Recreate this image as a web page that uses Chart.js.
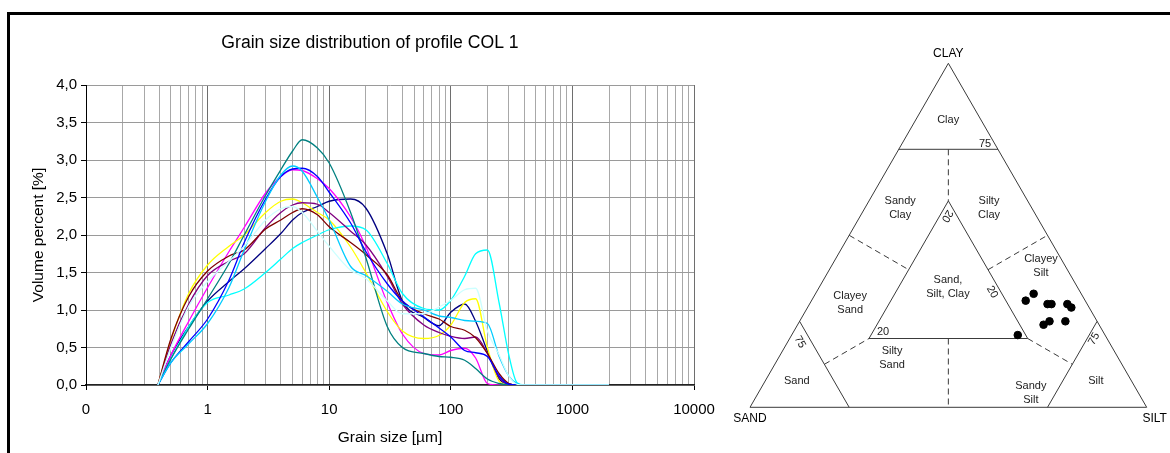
<!DOCTYPE html>
<html>
<head>
<meta charset="utf-8">
<script src="https://cdn.jsdelivr.net/npm/chart.js@4.4.0/dist/chart.umd.min.js"></script>
<style>
  body { margin: 0; background: #fff; }
  #page { position: relative; width: 1170px; height: 453px; overflow: hidden; background: #fff; }
  #frame { position: absolute; left: 7px; top: 12px; width: 1200px; height: 500px;
           border-top: 3px solid #000; border-left: 3px solid #000; }
  #grain { position: absolute; left: 10px; top: 0; }
  #ternary { position: absolute; left: 720px; top: 0; }
</style>
</head>
<body>
<div id="page">
  <div id="frame"></div>
  <canvas id="grain" width="720" height="453"></canvas>
  <canvas id="ternary" width="450" height="453"></canvas>
</div>
<script>
const FONT = "'Liberation Sans', Arial, sans-serif";
Chart.defaults.font.family = FONT;
Chart.defaults.color = "#000";

// grain size classes [µm]
const sizes = [0.39, 0.5, 0.7, 1, 1.5, 2, 3, 4, 5, 6, 8, 10, 15, 20, 30, 40, 60, 80, 100, 130, 160, 200, 250, 300, 350, 400, 2000];

// volume percent per sample
const sample1  = [0, 0.4, 0.78, 1.12, 1.38, 1.55, 1.82, 2.02, 2.2, 2.3, 2.38, 2.45, 2.48, 2.36, 1.75, 1.12, 0.9, 0.79, 0.97, 1.08, 0.85, 0.45, 0.08, 0.01, 0, 0, 0];
const sample2  = [0, 0.4, 0.85, 1.3, 1.78, 2.1, 2.56, 2.78, 2.87, 2.86, 2.75, 2.62, 2.24, 1.85, 1.1, 0.68, 0.42, 0.4, 0.46, 0.49, 0.36, 0.02, 0, 0, 0, 0, 0];
const sample3  = [0, 0.6, 1.22, 1.6, 1.85, 2.0, 2.3, 2.45, 2.48, 2.43, 2.3, 2.2, 1.84, 1.5, 0.98, 0.72, 0.62, 0.66, 0.8, 1.1, 1.15, 0.5, 0.05, 0, 0, 0, 0];
const sample4  = [0, 0.35, 0.78, 1.1, 1.2, 1.28, 1.5, 1.68, 1.82, 1.9, 2.0, 2.07, 2.12, 2.07, 1.62, 1.22, 1.02, 1.0, 1.13, 1.45, 1.75, 1.8, 1.09, 0.4, 0.03, 0, 0];
const sample5  = [0, 0.55, 1.08, 1.46, 1.65, 1.75, 2.1, 2.3, 2.4, 2.43, 2.41, 2.3, 2.05, 1.87, 1.45, 1.08, 0.8, 0.7, 0.65, 0.62, 0.64, 0.42, 0.1, 0.01, 0, 0, 0];
const sample6  = [0, 0.62, 1.18, 1.52, 1.72, 1.8, 2.08, 2.2, 2.3, 2.35, 2.27, 2.11, 1.9, 1.74, 1.47, 1.12, 0.95, 0.88, 0.78, 0.73, 0.63, 0.42, 0.15, 0.02, 0, 0, 0];
const sample7  = [0, 0.35, 0.75, 1.15, 1.62, 2.0, 2.53, 2.87, 3.12, 3.27, 3.16, 2.96, 2.3, 1.7, 0.78, 0.5, 0.42, 0.38, 0.37, 0.33, 0.22, 0.08, 0.02, 0, 0, 0, 0];
const sample8  = [0, 0.3, 0.58, 0.88, 1.4, 1.9, 2.48, 2.78, 2.88, 2.89, 2.78, 2.57, 2.16, 1.78, 1.35, 1.12, 0.91, 0.76, 0.64, 0.46, 0.43, 0.38, 0.12, 0.01, 0, 0, 0];
const sample9  = [0, 0.3, 0.55, 0.82, 1.3, 1.8, 2.45, 2.8, 2.92, 2.85, 2.5, 2.2, 1.58, 1.46, 1.25, 1.08, 1.0, 0.92, 0.9, 0.86, 0.85, 0.82, 0.38, 0.12, 0.02, 0, 0];
const sample10 = [0, 0.5, 1.05, 1.38, 1.65, 1.85, 2.2, 2.35, 2.38, 2.3, 2.05, 1.85, 1.53, 1.42, 1.12, 0.95, 0.95, 1.04, 1.13, 1.27, 1.29, 0.72, 0.4, 0.12, 0.01, 0, 0];

const samples = [sample1, sample2, sample3, sample4, sample5, sample6, sample7, sample8, sample9, sample10];
const palette = ["#000080", "#FF00FF", "#FFFF00", "#00FFFF", "#800080", "#800000", "#008080", "#0000FF", "#00CCFF", "#CCFFFF"];

// x axis decades and their labels
const decades = [0.1, 1, 10, 100, 1000, 10000];
const decadeLabels = ["0", "1", "10", "100", "1000", "10000"];

// texture of the samples: clay % and silt % (rest is sand)
const clayPct = [31, 33, 30, 30, 30, 29, 24, 25, 25, 21];
const siltPct = [54, 55, 60, 61, 65, 66.5, 62, 63, 67, 57];

// ---------- grain size curves ----------

const gridSizes = [];
decades.slice(0, -1).forEach(d => {
  for (let m = 1; m < 10; m++) gridSizes.push(+(m * d).toPrecision(6));
});
gridSizes.push(decades[decades.length - 1]);

const isDecade = v => decades.includes(v);

// title centred on the whole canvas, not only on the plot box
const canvasTitle = {
  id: "canvasTitle",
  afterDraw(chart) {
    const { ctx, width } = chart;
    ctx.save();
    ctx.fillStyle = "#000";
    ctx.font = "17.6px " + FONT;
    ctx.textAlign = "center";
    ctx.textBaseline = "middle";
    ctx.fillText("Grain size distribution of profile COL 1", width / 2, 43);
    ctx.restore();
  }
};

new Chart(document.getElementById("grain"), {
  type: "line",
  data: {
    datasets: samples.map((vals, i) => ({
      label: "Sample " + (i + 1),
      data: vals.map((v, k) => ({ x: sizes[k], y: v })),
      borderColor: palette[i],
      borderWidth: 1.3,
      pointRadius: 0,
      fill: false,
      cubicInterpolationMode: "monotone",
      order: samples.length - i
    }))
  },
  options: {
    responsive: false,
    animation: false,
    layout: { padding: { left: 0, right: 36, top: 85, bottom: 0 } },
    plugins: {
      legend: { display: false },
      tooltip: { enabled: false }
    },
    scales: {
      x: {
        type: "logarithmic",
        min: 0.1,
        max: 10000,
        afterBuildTicks: s => { s.ticks = gridSizes.map(v => ({ value: v })); },
        afterFit: s => { s.height = 68; },
        ticks: {
          autoSkip: false,
          maxRotation: 0,
          padding: 11,
          font: { size: 15 },
          callback: v => {
            const i = decades.indexOf(v);
            return i < 0 ? "" : decadeLabels[i];
          }
        },
        grid: {
          color: c => (c.tick && isDecade(c.tick.value)) ? "#6e6e6e" : "#a8a8a8",
          tickColor: c => (c.tick && isDecade(c.tick.value)) ? "#000" : "rgba(0,0,0,0)",
          tickLength: 5
        },
        border: { color: "#222", width: 1.5 },
        title: { display: true, text: "Grain size [µm]", font: { size: 15.5 }, padding: { top: 0, bottom: 6 } }
      },
      y: {
        min: 0,
        max: 4,
        afterFit: s => { s.width = 76; },
        ticks: {
          stepSize: 0.5,
          padding: 4,
          font: { size: 15 },
          callback: v => v.toFixed(1).replace(".", ",")
        },
        grid: { color: "#9a9a9a", tickColor: "#000", tickLength: 5 },
        border: { color: "#000" },
        title: { display: true, text: "Volume percent [%]", font: { size: 15.5 }, padding: { top: 19, bottom: 0 } }
      }
    }
  },
  plugins: [canvasTitle]
});

// ---------- ternary diagram ----------

const H = Math.sqrt(3) / 2;
// clay / silt percent -> triangle coordinates (sand left, silt right, clay on top)
const tern = (c, s) => ({ x: (s + c / 2) / 100, y: (c / 100) * H });

// class boundaries as [clay, silt] end points
const solidLines = [
  [[0, 0], [0, 100], [100, 0], [0, 0]],
  [[75, 0], [75, 25]],
  [[60, 20], [20, 20], [20, 60], [60, 20]],
  [[25, 0], [0, 25]],
  [[0, 75], [25, 75]]
];
const dashedLines = [
  [[75, 12.5], [60, 20]],
  [[50, 0], [40, 20]],
  [[12.5, 12.5], [20, 20]],
  [[20, 40], [0, 50]],
  [[20, 60], [12.5, 75]],
  [[40, 40], [50, 50]]
];

const zoneText = [
  ["Clay", 83.5, 8.2, 0],
  ["Sandy\nClay", 57.9, 8.9, 0],
  ["Silty\nClay", 57.9, 31.3, 0],
  ["Sand,\nSilt, Clay", 35.0, 32.4, 0],
  ["Clayey\nSand", 30.3, 10.1, 0],
  ["Clayey\nSilt", 41.1, 52.8, 0],
  ["Silty\nSand", 14.4, 28.6, 0],
  ["Sand", 7.6, 8.0, 0],
  ["Sandy\nSilt", 4.2, 68.7, 0],
  ["Silt", 7.6, 83.4, 0],
  ["75", 76.5, 21.0, 0],
  ["20", 55.6, 21.9, 120],
  ["20", 33.5, 44.3, 60],
  ["20", 21.9, 22.6, 0],
  ["75", 19.0, 3.1, 60],
  ["75", 19.9, 76.8, -60]
];

const ternaryText = {
  id: "ternaryText",
  afterDatasetsDraw(chart) {
    const { ctx, scales: { x, y } } = chart;
    const at = (c, s) => {
      const p = tern(c, s);
      return [x.getPixelForValue(p.x), y.getPixelForValue(p.y)];
    };
    ctx.save();
    ctx.fillStyle = "#222";
    ctx.textAlign = "center";
    ctx.textBaseline = "middle";
    ctx.font = "11px " + FONT;
    zoneText.forEach(([text, c, s, rot]) => {
      const [px, py] = at(c, s);
      const lines = text.split("\n");
      ctx.save();
      ctx.translate(px, py);
      ctx.rotate(rot * Math.PI / 180);
      lines.forEach((ln, k) => ctx.fillText(ln, 0, (k - (lines.length - 1) / 2) * 13.5));
      ctx.restore();
    });

    ctx.fillStyle = "#000";
    ctx.font = "12px " + FONT;
    const [ax, ay] = at(100, 0);
    const [sx, sy] = at(0, 0);
    const [tx, ty] = at(0, 100);
    ctx.fillText("CLAY", ax, ay - 10);
    ctx.fillText("SAND", sx, sy + 11);
    ctx.fillText("SILT", tx + 8, ty + 11);
    ctx.restore();
  }
};

const lineSet = (pts, dashed) => ({
  type: "scatter",
  data: pts.map(([c, s]) => tern(c, s)),
  showLine: true,
  borderColor: "#3a3a3a",
  borderWidth: 1,
  borderDash: dashed ? [6, 4] : [],
  pointRadius: 0,
  tension: 0,
  clip: false
});

new Chart(document.getElementById("ternary"), {
  type: "scatter",
  data: {
    datasets: [
      {
        label: "Samples",
        data: clayPct.map((c, i) => tern(c, siltPct[i])),
        backgroundColor: "#000",
        borderColor: "#000",
        pointRadius: 3.8,
        clip: false
      },
      ...solidLines.map(l => lineSet(l, false)),
      ...dashedLines.map(l => lineSet(l, true))
    ]
  },
  options: {
    responsive: false,
    animation: false,
    layout: { padding: { left: 30, right: 23.3, top: 63.3, bottom: 45.7 } },
    plugins: { legend: { display: false }, tooltip: { enabled: false } },
    scales: {
      x: { type: "linear", min: 0, max: 1, display: false },
      y: { type: "linear", min: 0, max: H, display: false }
    }
  },
  plugins: [ternaryText]
});
</script>
</body>
</html>
